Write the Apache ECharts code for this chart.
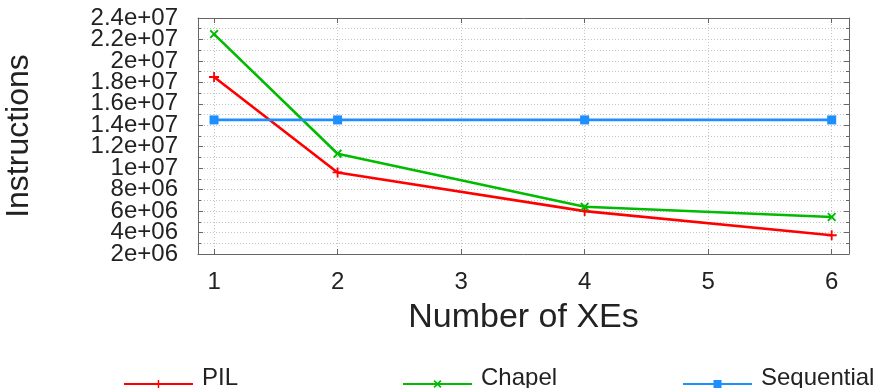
<!DOCTYPE html>
<html><head><meta charset="utf-8">
<script src="https://cdn.jsdelivr.net/npm/echarts@6/dist/echarts.min.js"></script>
<style>html,body{margin:0;padding:0;background:#fff}#c{width:883px;height:388px}</style>
</head><body><div id="c"></div>
<script>
const xes = [1, 2, 4, 6];
const xTicks = [1, 2, 3, 4, 5, 6];
const pil = [18500000, 9600000, 6000000, 3750000];
const chapel = [22500000, 11350000, 6400000, 5450000];
const sequential = [14500000, 14500000, 14500000, 14500000];
const yTickLabels = ['2e+06','4e+06','6e+06','8e+06','1e+07','1.2e+07','1.4e+07','1.6e+07','1.8e+07','2e+07','2.2e+07','2.4e+07'];

const font = 'Liberation Sans';
const plus = 'path://M-0.18,-1 L0.18,-1 L0.18,-0.18 L1,-0.18 L1,0.18 L0.18,0.18 L0.18,1 L-0.18,1 L-0.18,0.18 L-1,0.18 L-1,-0.18 L-0.18,-0.18 Z';
const cross = 'path://M-1,-0.7 L-0.7,-1 L0,-0.3 L0.7,-1 L1,-0.7 L0.3,0 L1,0.7 L0.7,1 L0,0.3 L-0.7,1 L-1,0.7 L-0.3,0 Z';
const gridLine = {show: true, lineStyle: {color: '#c4c4c4', type: [1, 2], width: 1}};
const yIdx = v => Math.round((v - 2000000) / 2000000);
const yLabelStyle = {fontFamily: font, fontSize: 24, color: '#222', margin: 20, hideOverlap: false};

const chart = echarts.init(document.getElementById('c'), null, {renderer: 'canvas'});
const mk = (name, data, color, symbol, size) => ({
  name, type: 'line', data: xes.map((x, i) => [x, data[i]]),
  symbol, symbolSize: size, color,
  lineStyle: {width: 2.6, color}, itemStyle: {color},
  animation: false
});
const legendText = {fontFamily: font, fontSize: 24, color: '#222', padding: [0, 0, 0, 4],
  rich: {a: {fontFamily: font, fontSize: 24, color: '#222', padding: [0, 0, 12, 0]}}};
const lg = (name, left) => ({data: [name], left, top: 361, itemWidth: 69, itemHeight: 10,
  formatter: '{a|{name}}', textStyle: legendText});
chart.setOption({
  animation: false,
  grid: {left: 198, right: 34, top: 18, bottom: 134, outerBoundsMode: 'none', containLabel: false},
  legend: [lg('PIL', 118), lg('Chapel', 397), lg('Sequential', 677)],
  xAxis: [{
    type: 'value', min: 0.87, max: 6.14,
    name: 'Number of XEs', nameLocation: 'middle', nameGap: 47,
    nameTextStyle: {fontFamily: font, fontSize: 34, color: '#222'},
    axisLine: {show: true, onZero: false, lineStyle: {color: '#666', width: 1}},
    axisTick: {show: true, inside: true, length: 5, customValues: xTicks, lineStyle: {color: '#666'}},
    axisLabel: {customValues: xTicks, fontFamily: font, fontSize: 24, color: '#222', margin: 16},
    splitLine: gridLine
  }, {
    type: 'value', min: 0.87, max: 6.14, position: 'top',
    axisLine: {show: true, onZero: false, lineStyle: {color: '#666', width: 1}},
    axisTick: {show: true, inside: true, length: 5, customValues: xTicks, lineStyle: {color: '#666'}},
    axisLabel: {show: false}, splitLine: {show: false}
  }],
  yAxis: [{
    type: 'value', min: 2000000, max: 24000000, interval: 2000000,
    name: 'Instructions', nameLocation: 'middle', nameGap: 163,
    nameTextStyle: {fontFamily: font, fontSize: 32, color: '#222'},
    axisLine: {show: true, onZero: false, lineStyle: {color: '#666', width: 1}},
    axisTick: {show: true, inside: true, length: 5, lineStyle: {color: '#666'}},
    minorTick: {show: true, splitNumber: 2, length: 3, lineStyle: {color: '#666'}},
    axisLabel: Object.assign({}, yLabelStyle, {showMinLabel: false, showMaxLabel: false,
      formatter: v => yTickLabels[yIdx(v)] || ''}),
    splitLine: gridLine,
    minorSplitLine: gridLine
  }, {
    type: 'value', min: 2000000, max: 24000000, interval: 2000000, position: 'right',
    axisLine: {show: true, onZero: false, lineStyle: {color: '#666', width: 1}},
    axisTick: {show: true, inside: true, length: 5, lineStyle: {color: '#666'}},
    minorTick: {show: true, splitNumber: 2, length: 3, lineStyle: {color: '#666'}},
    axisLabel: {show: false}, splitLine: {show: false}
  }, {
    type: 'value', min: 2000000, max: 24000000, interval: 2000000, position: 'left',
    axisLine: {show: false, onZero: false}, axisTick: {show: false},
    axisLabel: Object.assign({}, yLabelStyle, {showMinLabel: true, showMaxLabel: true,
      formatter: v => { const i = yIdx(v); return (i === 0 || i === yTickLabels.length - 1) ? yTickLabels[i] : ''; }}),
    splitLine: {show: false}
  }],
  series: [
    mk('PIL', pil, '#ff0000', plus, 10),
    mk('Chapel', chapel, '#00bb00', cross, 9),
    mk('Sequential', sequential, '#1e8fff', 'rect', 9)
  ]
});
</script></body></html>
